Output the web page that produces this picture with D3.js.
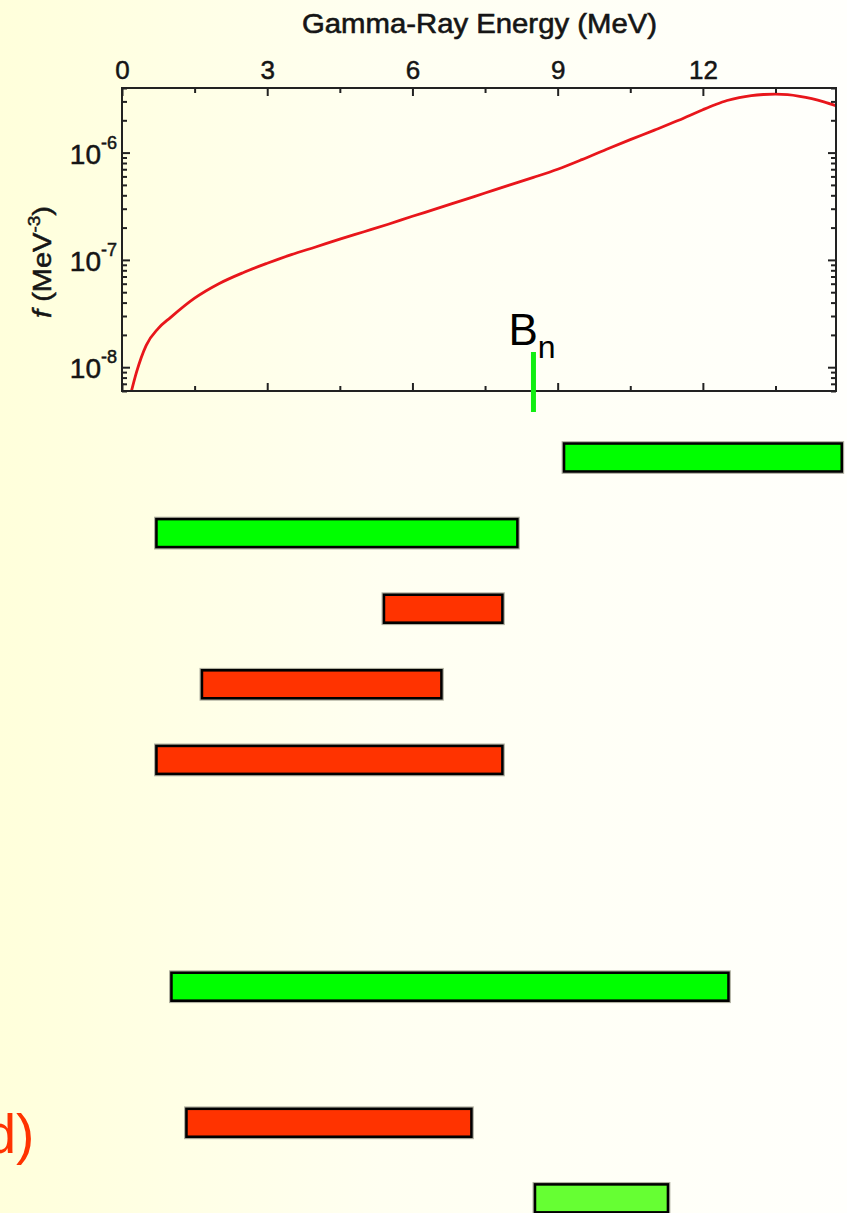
<!DOCTYPE html>
<html>
<head>
<meta charset="utf-8">
<script src="https://cdn.jsdelivr.net/npm/d3@7"></script>
<style>
  html, body { margin: 0; padding: 0; overflow: hidden; }
  svg { display: block; }
</style>
</head>
<body>
<svg id="chart" width="847" height="1213"></svg>
<script>
// Gamma-ray strength function f(E) in MeV^-3
const energyMeV = [0.17, 0.3, 0.5, 0.75, 1.0, 1.5, 2.0, 2.5, 3.0, 3.5, 4.0, 4.5, 5.0, 5.5, 6.0,
                   6.5, 7.0, 7.5, 8.0, 8.5, 9.0, 9.5, 10.0, 10.5, 11.0, 11.5, 12.0, 12.25,
                   12.5, 12.75, 13.0, 13.25, 13.5, 13.75, 14.0, 14.25, 14.5, 14.8];
const strength = [5.4e-9, 9.0e-9, 1.6e-8, 2.3e-8, 2.9e-8, 4.4e-8, 6.0e-8, 7.6e-8, 9.3e-8, 1.12e-7,
                  1.32e-7, 1.56e-7, 1.83e-7, 2.15e-7, 2.55e-7, 3.0e-7, 3.55e-7, 4.2e-7, 4.97e-7,
                  5.87e-7, 7.0e-7, 8.6e-7, 1.07e-6, 1.32e-6, 1.62e-6, 2.0e-6, 2.51e-6, 2.79e-6,
                  3.06e-6, 3.26e-6, 3.40e-6, 3.48e-6, 3.51e-6, 3.47e-6, 3.35e-6, 3.18e-6, 2.97e-6, 2.68e-6];

// Neutron binding energy (MeV)
const bindingEnergy = 8.5;

// Energy ranges (MeV) covered by each measurement
const rangeStart = [9.1, 0.68, 5.38, 1.62, 0.68, 0.99, 1.30, 8.50];
const rangeEnd   = [14.9, 8.2, 7.89, 6.63, 7.89, 12.56, 7.25, 11.31];
const rangeKind  = ["green", "green", "red", "red", "red", "green", "red", "lime"];

// Axis ticks
const xTickValues = [0, 3, 6, 9, 12];
const xMinorValues = [1.5, 4.5, 7.5, 10.5, 13.5];
const yDecadeExponents = [-8, -7, -6];

const svg = d3.select("#chart");
const W = 847, H = 1213;

// background: pale yellow fading to white towards the right
const defs = svg.append("defs");
const grad = defs.append("linearGradient").attr("id", "bg").attr("x1", "0").attr("x2", "1").attr("y1", "0").attr("y2", "0");
grad.append("stop").attr("offset", "0%").attr("stop-color", "#ffffdb");
grad.append("stop").attr("offset", "45%").attr("stop-color", "#fffff1");
grad.append("stop").attr("offset", "100%").attr("stop-color", "#fffffc");
svg.append("rect").attr("width", W).attr("height", H).attr("fill", "url(#bg)");

const plot = { left: 122, right: 836, top: 88, bottom: 391 };

const x = d3.scaleLinear().domain([0, 14.75]).range([plot.left, plot.right]);
const y = d3.scaleLog().domain([6e-9, 4e-6]).range([plot.bottom, plot.top]);

defs.append("clipPath").attr("id", "plotClip")
  .append("rect")
  .attr("x", plot.left).attr("y", plot.top)
  .attr("width", plot.right - plot.left).attr("height", plot.bottom - plot.top);

const font = "'Liberation Sans', Arial, Helvetica, sans-serif";
const axisColor = "#222";
const inkColor = "#151515";

// --- strength function curve
const line = d3.line()
  .x((d, i) => x(energyMeV[i]))
  .y(d => y(d))
  .curve(d3.curveMonotoneX);

svg.append("path")
  .datum(strength)
  .attr("clip-path", "url(#plotClip)")
  .attr("d", line)
  .attr("fill", "none")
  .attr("stroke", "#e8161b")
  .attr("stroke-width", 2.8)
  .attr("stroke-linejoin", "round");

// --- frame
svg.append("rect")
  .attr("x", plot.left).attr("y", plot.top)
  .attr("width", plot.right - plot.left).attr("height", plot.bottom - plot.top)
  .attr("fill", "none").attr("stroke", axisColor).attr("stroke-width", 2);

// --- top axis with labels, ticks pointing inward
function styleAxis(g) {
  g.select(".domain").remove();
  g.selectAll(".tick line").attr("stroke", axisColor).attr("stroke-width", 2);
}

const topAxis = svg.append("g")
  .attr("transform", `translate(0,${plot.top})`)
  .call(d3.axisTop(x).tickValues(xTickValues).tickSize(-8).tickPadding(9).tickFormat(d3.format("d")))
  .call(styleAxis);
topAxis.selectAll("text")
  .attr("font-family", font).attr("font-size", 26).attr("fill", inkColor)
  .attr("stroke", inkColor).attr("stroke-width", 0.5);

svg.append("g")
  .attr("transform", `translate(0,${plot.top})`)
  .call(d3.axisTop(x).tickValues(xMinorValues).tickSize(-5).tickFormat(""))
  .call(styleAxis);

svg.append("g")
  .attr("transform", `translate(0,${plot.bottom})`)
  .call(d3.axisBottom(x).tickValues(xTickValues).tickSize(-8).tickFormat(""))
  .call(styleAxis);
svg.append("g")
  .attr("transform", `translate(0,${plot.bottom})`)
  .call(d3.axisBottom(x).tickValues(xMinorValues).tickSize(-5).tickFormat(""))
  .call(styleAxis);

// --- log-scale ticks on left and right
const decades = yDecadeExponents.map(e => Math.pow(10, e));
const minorY = y.ticks().filter(v => {
  const m = v / Math.pow(10, Math.floor(Math.log10(v) + 1e-9));
  return Math.abs(m - 1) > 1e-6;
});

[[d3.axisLeft, plot.left], [d3.axisRight, plot.right]].forEach(([axisFn, xpos]) => {
  svg.append("g")
    .attr("transform", `translate(${xpos},0)`)
    .call(axisFn(y).tickValues(decades).tickSize(-8).tickFormat(""))
    .call(styleAxis);
  svg.append("g")
    .attr("transform", `translate(${xpos},0)`)
    .call(axisFn(y).tickValues(minorY).tickSize(-5).tickFormat(""))
    .call(styleAxis);
});

// decade labels 10^n
yDecadeExponents.forEach(e => {
  const t = svg.append("text")
    .attr("x", plot.left - 5)
    .attr("y", y(Math.pow(10, e)) + 11)
    .attr("text-anchor", "end")
    .attr("font-family", font)
    .attr("fill", inkColor)
    .attr("stroke", inkColor).attr("stroke-width", 0.5);
  t.append("tspan").attr("font-size", 28).text("10");
  t.append("tspan").attr("font-size", 18).attr("dy", -15).text(String(e));
});

// axis titles
svg.append("text")
  .attr("x", (plot.left + plot.right) / 2 + 0.5)
  .attr("y", 33)
  .attr("text-anchor", "middle")
  .attr("font-family", font)
  .attr("font-size", 28)
  .attr("fill", inkColor)
  .attr("stroke", inkColor).attr("stroke-width", 0.6)
  .attr("textLength", 355)
  .attr("lengthAdjust", "spacingAndGlyphs")
  .text("Gamma-Ray Energy (MeV)");

const yTitle = svg.append("text")
  .attr("transform", `translate(51,262) rotate(-90)`)
  .attr("text-anchor", "middle")
  .attr("font-family", font)
  .attr("font-size", 26)
  .attr("fill", inkColor)
  .attr("stroke", inkColor).attr("stroke-width", 0.5)
  .attr("textLength", 112)
  .attr("lengthAdjust", "spacingAndGlyphs");
yTitle.append("tspan").attr("font-style", "italic").text("f");
yTitle.append("tspan").text(" (MeV");
yTitle.append("tspan").attr("font-size", 17).attr("dy", -11).text("-3");
yTitle.append("tspan").attr("dy", 11).text(")");

// --- binding energy marker
svg.append("line")
  .attr("x1", x(bindingEnergy)).attr("x2", x(bindingEnergy))
  .attr("y1", 352).attr("y2", 412)
  .attr("stroke", "#11ee11").attr("stroke-width", 5);

const bn = svg.append("text")
  .attr("x", x(bindingEnergy) - 25)
  .attr("y", 345)
  .attr("font-family", font)
  .attr("fill", "#000");
bn.append("tspan").attr("font-size", 44).text("B");
bn.append("tspan").attr("font-size", 32).attr("dy", 13).text("n");

// --- energy range bars
const fillFor = { green: "#00ff00", red: "#ff3300", lime: "#66ff33" };
const slotOf = [0, 1, 2, 3, 4, 7, 8.8, 9.8];
const rowY = d3.scaleLinear().domain([0, 1]).range([442, 517.6]);
const barH = 31;

const bars = svg.append("g");
rangeStart.forEach((s, i) => {
  const x0 = x(s), x1 = x(rangeEnd[i]);
  const top = rowY(slotOf[i]);
  bars.append("rect")
    .attr("x", x0 - 0.3).attr("y", top - 0.3)
    .attr("width", x1 - x0 + 0.6).attr("height", barH + 0.6)
    .attr("fill", "none").attr("stroke", "#b0b0a0").attr("stroke-width", 1.2);
  bars.append("rect")
    .attr("x", x0 + 1.5).attr("y", top + 1.5)
    .attr("width", x1 - x0 - 3).attr("height", barH - 3)
    .attr("fill", fillFor[rangeKind[i]])
    .attr("stroke", "#000").attr("stroke-width", 2.6);
});

// panel label
svg.append("text")
  .attr("x", -14.5).attr("y", 1153)
  .attr("font-family", font)
  .attr("font-size", 55)
  .attr("fill", "#ff3300")
  .text("d)");
</script>
</body>
</html>
